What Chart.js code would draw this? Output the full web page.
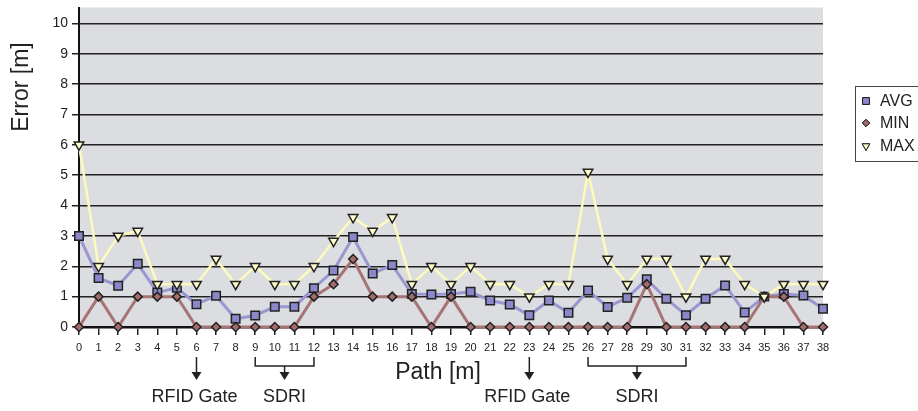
<!DOCTYPE html>
<html>
<head>
<meta charset="utf-8">
<script src="https://cdn.jsdelivr.net/npm/chart.js@4.4.1/dist/chart.umd.min.js"></script>
<style>
  html, body { margin: 0; padding: 0; background: #fff; }
  canvas { display: block; }
</style>
</head>
<body>
<canvas id="chart" width="918" height="411"></canvas>
<script>
const paths = ['0','1','2','3','4','5','6','7','8','9','10','11','12','13','14','15','16','17','18','19',
  '20','21','22','23','24','25','26','27','28','29','30','31','32','33','34','35','36','37','38'];

const avgErr = [3.0, 1.61, 1.36, 2.08, 1.14, 1.29, 0.75, 1.03, 0.27, 0.38, 0.67, 0.67, 1.28, 1.86, 2.96,
  1.76, 2.04, 1.09, 1.07, 1.09, 1.16, 0.87, 0.74, 0.39, 0.87, 0.47, 1.2, 0.66, 0.96, 1.57,
  0.93, 0.39, 0.93, 1.37, 0.48, 1.0, 1.09, 1.04, 0.6];
const minErr = [0, 1, 0, 1, 1, 1, 0, 0, 0, 0, 0, 0, 1, 1.41, 2.24, 1, 1, 1, 0, 1,
  0, 0, 0, 0, 0, 0, 0, 0, 0, 1.41, 0, 0, 0, 0, 0, 1, 1, 0, 0];
const maxErr = [6, 2, 3, 3.16, 1.41, 1.41, 1.41, 2.24, 1.41, 2, 1.41, 1.41, 2, 2.83, 3.61, 3.16, 3.61, 1.41, 2, 1.41,
  2, 1.41, 1.41, 1, 1.41, 1.41, 5.1, 2.24, 1.41, 2.24, 2.24, 1, 2.24, 2.24, 1.41, 1, 1.41, 1.41, 1.41];

// markers along the path: single gates and spans
const gates = [6, 23];
const spans = [[9, 12], [26, 31]];

const FONT = '"Liberation Sans", Arial, sans-serif';
const INK = '#222';

const seriesStyle = [
  {label: 'AVG', line: '#9b96d2', fill: '#8c87c8', style: 'rect', radius: 6, rot: 0},
  {label: 'MIN', line: '#a67474', fill: '#a36b6b', style: 'rectRot', radius: 4.5, rot: 0},
  {label: 'MAX', line: '#fdfabd', fill: '#fffccc', style: 'triangle', radius: 5.5, rot: 180},
];

const plotBackground = {
  id: 'plotBackground',
  beforeDraw(chart) {
    const {ctx, chartArea: a} = chart;
    ctx.save();
    ctx.fillStyle = '#dcdde0';
    ctx.fillRect(a.left, a.top, a.right - a.left, a.bottom - a.top);
    ctx.restore();
  }
};

function arrowDown(ctx, x, y0, y1) {
  ctx.beginPath();
  ctx.moveTo(x, y0);
  ctx.lineTo(x, y1 - 6);
  ctx.stroke();
  ctx.beginPath();
  ctx.moveTo(x - 5, y1 - 8);
  ctx.lineTo(x + 5, y1 - 8);
  ctx.lineTo(x, y1);
  ctx.closePath();
  ctx.fill();
}

const extras = {
  id: 'extras',
  afterDraw(chart) {
    const {ctx} = chart;
    const xs = chart.scales.x;
    ctx.save();
    ctx.fillStyle = INK;
    ctx.strokeStyle = INK;
    ctx.lineWidth = 1.5;

    // axis titles
    ctx.font = '23px ' + FONT;
    ctx.textAlign = 'center';
    ctx.textBaseline = 'middle';
    ctx.fillText('Path [m]', 438, 373);
    ctx.save();
    ctx.translate(22, 87);
    ctx.rotate(-Math.PI / 2);
    ctx.fillText('Error [m]', 0, 0);
    ctx.restore();

    // annotations
    ctx.font = '18px ' + FONT;
    for (const g of gates) {
      const x = xs.getPixelForValue(g);
      arrowDown(ctx, x, 357, 380);
      ctx.fillText('RFID Gate', x - 2, 397);
    }
    for (const [a, b] of spans) {
      const xa = xs.getPixelForValue(a);
      const xb = xs.getPixelForValue(b);
      const xm = (xa + xb) / 2;
      ctx.beginPath();
      ctx.moveTo(xa, 357);
      ctx.lineTo(xa, 366);
      ctx.lineTo(xb, 366);
      ctx.lineTo(xb, 357);
      ctx.stroke();
      arrowDown(ctx, xm, 366, 380);
      ctx.fillText('SDRI', xm, 397);
    }

    // legend (runs off the right edge, as in the original)
    ctx.fillStyle = '#fff';
    ctx.fillRect(855, 87, 90, 75);
    ctx.strokeStyle = '#444';
    ctx.lineWidth = 1;
    ctx.strokeRect(855.5, 86.5, 90, 75);
    ctx.font = '16px ' + FONT;
    ctx.textAlign = 'left';
    const rows = [101, 123, 146];
    seriesStyle.forEach((s, i) => {
      const y = rows[i];
      ctx.fillStyle = s.fill;
      ctx.strokeStyle = INK;
      ctx.lineWidth = 1;
      Chart.helpers.drawPoint(ctx, {pointStyle: s.style, radius: s.radius * 0.8, rotation: s.rot, borderWidth: 1}, 866, y);
      ctx.fill();
      ctx.stroke();
      ctx.fillStyle = INK;
      ctx.fillText(s.label, 880, y + 1);
    });
    ctx.restore();
  }
};

const seriesData = [avgErr, minErr, maxErr];
const datasets = seriesStyle.map((s, i) => ({
  label: s.label,
  data: seriesData[i],
  borderColor: s.line,
  borderWidth: i === 2 ? 2.5 : 3,
  pointStyle: s.style,
  pointRadius: s.radius,
  pointRotation: s.rot,
  pointBackgroundColor: s.fill,
  pointBorderColor: INK,
  pointBorderWidth: 1.5,
  tension: 0,
  clip: false,
  order: 3 - i,
}));

new Chart(document.getElementById('chart'), {
  type: 'line',
  data: {labels: paths, datasets: datasets},
  options: {
    responsive: false,
    animation: false,
    devicePixelRatio: 1,
    layout: {padding: {left: 0, right: 95, top: 5, bottom: 0}},
    scales: {
      x: {
        offset: false,
        afterFit: s => { s.height = 84; s.paddingLeft = 0; s.paddingRight = 0; },
        grid: {drawOnChartArea: false, drawTicks: true, tickLength: 8, color: INK, lineWidth: 1.5},
        border: {display: true, color: '#111', width: 2.5},
        ticks: {color: INK, font: {family: FONT, size: 11}, padding: 6, maxRotation: 0, autoSkip: false}
      },
      y: {
        min: 0,
        max: 10.52,
        afterFit: s => { s.width = 79; s.paddingTop = 0; s.paddingBottom = 0; },
        afterBuildTicks: s => { s.ticks = s.ticks.filter(t => Number.isInteger(t.value)); },
        grid: {color: INK, lineWidth: 1.5, tickLength: 7},
        border: {display: true, color: '#111', width: 2},
        ticks: {stepSize: 1, includeBounds: false, color: INK, font: {family: FONT, size: 14}, padding: 4}
      }
    },
    plugins: {
      legend: {display: false},
      tooltip: {enabled: false}
    }
  },
  plugins: [plotBackground, extras]
});
</script>
</body>
</html>
